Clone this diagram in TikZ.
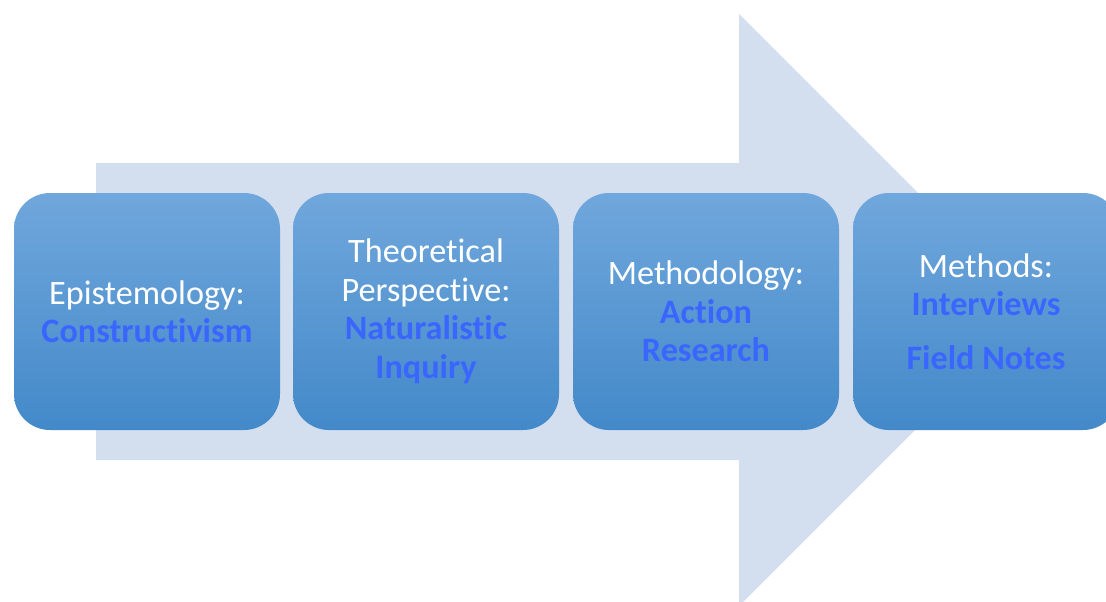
\documentclass[tikz,border=0pt]{standalone}
\usepackage{fontspec}
\setmainfont[Ligatures={NoCommon}]{Carlito}
\definecolor{arrowfill}{HTML}{D3DEEF}
\definecolor{boxtop}{HTML}{70A7DC}
\definecolor{boxbottom}{HTML}{4389C9}
\definecolor{termblue}{HTML}{3A66FF}
\tikzset{
  stage/.style={rounded corners=36pt, top color=boxtop, bottom color=boxbottom,
    draw=none, minimum width=266pt, minimum height=237pt, inner sep=0pt,
    align=center, text=white, font=\fontsize{34.2}{38.5}\selectfont}
}
\newcommand{\term}[1]{\textbf{\textcolor{termblue}{#1}}}
\begin{document}
\begin{tikzpicture}[x=1pt,y=-1pt]
  \useasboundingbox (0,0) rectangle (1106,602);
  \clip (0,0) rectangle (1106,602);
  % broad background arrow
  \fill[arrowfill] (96,163) -- (739,163) -- (739,14) -- (1035,310)
    -- (739,606) -- (739,460) -- (96,460) -- cycle;
  % four stages
  \node[stage] (epi)  at (147,311.5) {Epistemology:\\\term{Constructivism}};
  \node[stage] (theo) at (426,311.5) {Theoretical\\Perspective:\\\term{Naturalistic}\\\term{Inquiry}};
  \node[stage] (meth) at (706,311.5) {Methodology:\\\term{Action}\\\term{Research}};
  \node[stage] (mtds) at (986,311.5) {Methods:\\\term{Interviews}\\[15pt]\term{Field Notes}};
\end{tikzpicture}
\end{document}
